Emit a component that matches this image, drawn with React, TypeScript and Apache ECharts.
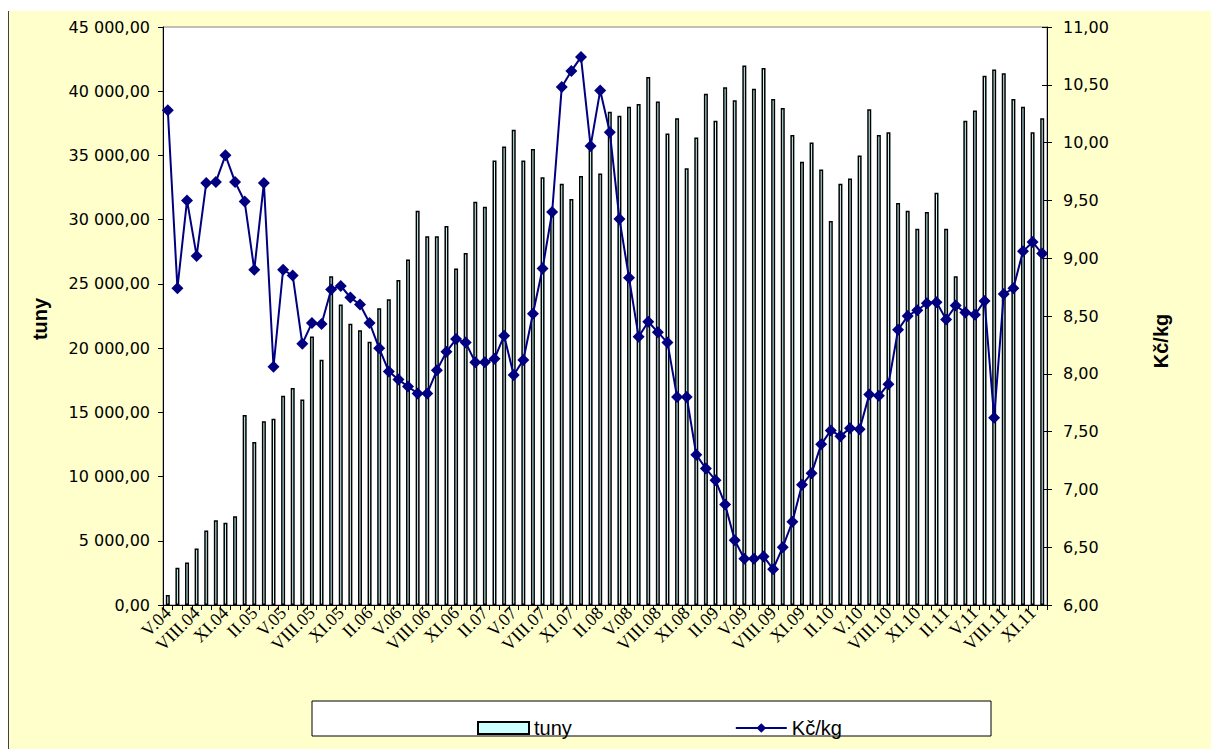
import React, { useEffect, useRef } from "react";
import * as echarts from "echarts";

const romanMonths = ["I", "II", "III", "IV", "V", "VI", "VII", "VIII", "IX", "X", "XI", "XII"];
const years = [2004, 2005, 2006, 2007, 2008, 2009, 2010, 2011];
const firstMonthIndex = 4; // V.04

const categories: string[] = [];
years.forEach((y, yi) => {
  romanMonths.forEach((m, mi) => {
    if (yi === 0 && mi < firstMonthIndex) return;
    categories.push(`${m}.${String(y).slice(2)}`);
  });
});

const tuny = [
  780, 2900, 3300, 4400, 5800, 6600, 6400, 6900,
  14800, 12700, 14300, 14500, 16300, 16900, 16000, 20900, 19100, 25600, 23400, 21900,
  21400, 20500, 23100, 23800, 25300, 26900, 30700, 28700, 28700, 29500, 26200, 27400,
  31400, 31000, 34600, 35700, 37000, 34600, 35500, 33300, 30500, 32800, 31600, 33400,
  35600, 33600, 38400, 38100, 38800, 39000, 41100, 39200, 36700, 37900, 34000, 36400,
  39800, 37700, 40300, 39300, 42000, 40200, 41800, 39400, 38700, 36600, 34500, 36000,
  33900, 29900, 32800, 33200, 35000, 38600, 36600, 36800, 31300, 30700, 29300, 30600,
  32100, 29300, 25600, 37700, 38500, 41200, 41700, 41400, 39400, 38800, 36800, 37900,
];

const kcKg = [
  10.28, 8.74, 9.5, 9.02, 9.65, 9.66, 9.89, 9.66,
  9.49, 8.9, 9.65, 8.06, 8.9, 8.85, 8.26, 8.44, 8.43, 8.73, 8.76, 8.66,
  8.6, 8.44, 8.22, 8.02, 7.95, 7.89, 7.83, 7.83, 8.03, 8.19, 8.3, 8.27,
  8.1, 8.1, 8.13, 8.33, 7.99, 8.12, 8.52, 8.91, 9.4, 10.48, 10.62, 10.74,
  9.97, 10.45, 10.09, 9.34, 8.83, 8.32, 8.45, 8.36, 8.27, 7.8, 7.8, 7.3,
  7.18, 7.08, 6.87, 6.56, 6.4, 6.4, 6.42, 6.31, 6.5, 6.72, 7.04, 7.14,
  7.39, 7.51, 7.46, 7.53, 7.52, 7.82, 7.81, 7.91, 8.38, 8.5, 8.55, 8.61,
  8.62, 8.47, 8.59, 8.53, 8.51, 8.63, 7.62, 8.69, 8.74, 9.06, 9.14, 9.04,
];

const seriesNames = ["tuny", "Kč/kg"];

const fmt = (v: number) => {
  const [i, d] = v.toFixed(2).split(".");
  return i.replace(/\B(?=(\d{3})+(?!\d))/g, " ") + "," + d;
};

const SANS = "'Liberation Sans', Arial, sans-serif";
const TICK = "'DejaVu Sans', Verdana, sans-serif";
const SERIF = "'Liberation Serif', 'Times New Roman', serif";

export default function App() {
  const ref = useRef<HTMLDivElement>(null);
  useEffect(() => {
    if (!ref.current) return;
    const chart = echarts.init(ref.current, null, { renderer: "svg" });
    chart.setOption({
      animation: false,
      backgroundColor: "transparent",
      grid: {
        left: 154,
        top: 16,
        width: 884,
        height: 578,
        show: true,
        backgroundColor: "#ffffff",
        borderColor: "#808080",
        borderWidth: 1,
      },
      legend: {
        left: 463,
        top: 702,
        itemWidth: 51,
        itemHeight: 12,
        itemGap: 163,
        textStyle: { fontFamily: SANS, fontSize: 20, color: "#000" },
        data: [
          { name: seriesNames[0], icon: "rect", itemStyle: { color: "#CCFFFF", borderColor: "#000", borderWidth: 2 } },
          { name: seriesNames[1] },
        ],
      },
      xAxis: {
        type: "category",
        data: categories,
        boundaryGap: true,
        axisLine: { lineStyle: { color: "#000", width: 1 } },
        axisTick: { show: true, interval: 0, length: 5, lineStyle: { color: "#000" } },
        axisLabel: {
          interval: 2,
          rotate: 45,
          margin: 5,
          fontFamily: SERIF,
          fontSize: 18,
          color: "#000",
          hideOverlap: false,
        },
        splitLine: { show: false },
      },
      yAxis: [
        {
          type: "value",
          position: "left",
          min: 0,
          max: 45000,
          interval: 5000,
          axisLine: { show: true, lineStyle: { color: "#000", width: 1 } },
          axisTick: { show: true, length: 5, lineStyle: { color: "#000" } },
          axisLabel: { margin: 13, fontFamily: TICK, fontSize: 16, color: "#000", formatter: fmt },
          splitLine: { show: false },
        },
        {
          type: "value",
          position: "right",
          min: 6,
          max: 11,
          interval: 0.5,
          axisLine: { show: true, lineStyle: { color: "#000", width: 1 } },
          axisTick: { show: true, length: 5, lineStyle: { color: "#000" } },
          axisLabel: { margin: 16, fontFamily: TICK, fontSize: 16, color: "#000", formatter: fmt },
          splitLine: { show: false },
        },
        {
          type: "value",
          position: "right",
          offset: 0,
          min: 6,
          max: 11,
          interval: 0.5,
          axisLine: { show: false },
          axisTick: { show: true, inside: true, length: 5, lineStyle: { color: "#000" } },
          axisLabel: { show: false },
          splitLine: { show: false },
        },
      ],
      graphic: [
        {
          type: "rect",
          z: 0,
          shape: { x: 303, y: 690, width: 679, height: 35 },
          style: { fill: "#ffffff", stroke: "#000", lineWidth: 1 },
        },
        {
          type: "text",
          x: 31,
          y: 308,
          rotation: Math.PI / 2,
          style: {
            text: "tuny",
            font: `bold 20px ${SANS}`,
            fill: "#000",
            align: "center",
            verticalAlign: "middle",
          },
        },
        {
          type: "text",
          x: 1152,
          y: 330,
          rotation: Math.PI / 2,
          style: {
            text: "Kč/kg",
            font: `bold 20px ${SANS}`,
            fill: "#000",
            align: "center",
            verticalAlign: "middle",
          },
        },
      ],
      series: [
        {
          name: seriesNames[0],
          type: "bar",
          yAxisIndex: 0,
          data: tuny,
          barWidth: 4,
          itemStyle: { color: "#CCFFFF", borderColor: "#000", borderWidth: 1.5 },
        },
        {
          name: seriesNames[1],
          type: "line",
          yAxisIndex: 1,
          data: kcKg,
          z: 5,
          symbol: "diamond",
          symbolSize: 12,
          showAllSymbol: true,
          lineStyle: { color: "#000080", width: 2 },
          itemStyle: { color: "#000080" },
        },
      ],
    });
    return () => chart.dispose();
  }, []);

  return (
    <div
      style={{
        position: "fixed",
        left: 8,
        top: 11,
        width: 1203,
        height: 738,
        background: "#FFFFCC",
        borderLeft: "1px solid #404040",
        boxSizing: "border-box",
      }}
    >
      <div ref={ref} style={{ width: 1202, height: 738 }} />
    </div>
  );
}
